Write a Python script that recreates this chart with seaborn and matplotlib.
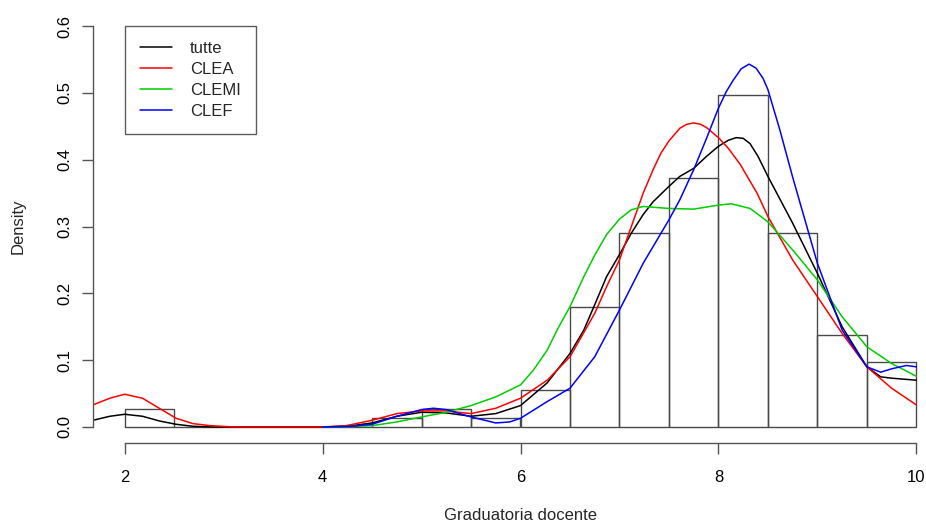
import numpy as np
import pandas as pd
import seaborn as sns
import matplotlib
matplotlib.use("Agg")
import matplotlib.pyplot as plt

######### data #######################################
# histogram of "Graduatoria docente" (counts per 0.5 bin, 145 obs)
bin_edges = [2.0, 2.5, 3.0, 3.5, 4.0, 4.5, 5.0, 5.5, 6.0, 6.5, 7.0, 7.5, 8.0, 8.5, 9.0, 9.5, 10.0]
bin_counts = [2, 0, 0, 0, 0, 1, 2, 1, 4, 13, 21, 27, 36, 21, 10, 7]

# density curves
tutte_x = [1.68, 1.85, 2.0, 2.18, 2.35, 2.52, 2.69, 2.9, 3.5, 4.0, 4.25, 4.5, 4.75, 5.0, 5.25, 5.5, 5.75,
           6.0, 6.27, 6.5, 6.64, 6.75, 6.87, 7.0, 7.12, 7.24, 7.34, 7.5, 7.61, 7.75, 7.88, 8.0, 8.1, 8.18,
           8.25, 8.32, 8.4, 8.5, 8.75, 9.0, 9.25, 9.5, 9.64, 9.75, 10.0]
tutte_y = [0.010, 0.016, 0.019, 0.016, 0.009, 0.004, 0.001, 0.0, 0.0, 0.0, 0.001, 0.006, 0.016, 0.022,
           0.021, 0.016, 0.020, 0.032, 0.066, 0.11, 0.145, 0.183, 0.225, 0.258, 0.29, 0.318, 0.337, 0.36,
           0.375, 0.387, 0.405, 0.42, 0.429, 0.433, 0.432, 0.424, 0.405, 0.375, 0.305, 0.23, 0.15, 0.09,
           0.075, 0.073, 0.07]

clea_x = [1.68, 1.85, 2.0, 2.18, 2.35, 2.52, 2.69, 2.86, 3.1, 3.5, 4.0, 4.24, 4.5, 4.75, 5.0, 5.25, 5.5,
          5.75, 6.0, 6.27, 6.5, 6.75, 6.87, 7.0, 7.12, 7.24, 7.34, 7.42, 7.5, 7.61, 7.68, 7.75, 7.82, 7.88,
          8.0, 8.1, 8.22, 8.39, 8.5, 8.75, 9.0, 9.25, 9.5, 9.75, 10.0]
clea_y = [0.033, 0.043, 0.049, 0.043, 0.028, 0.013, 0.005, 0.002, 0.0, 0.0, 0.0, 0.002, 0.010, 0.020,
          0.024, 0.024, 0.020, 0.028, 0.043, 0.07, 0.105, 0.17, 0.21, 0.25, 0.30, 0.35, 0.385, 0.41,
          0.428, 0.447, 0.453, 0.455, 0.453, 0.448, 0.433, 0.417, 0.393, 0.35, 0.315, 0.25, 0.195, 0.14,
          0.09, 0.058, 0.033]

clemi_x = [4.0, 4.25, 4.5, 4.75, 5.0, 5.25, 5.5, 5.75, 6.0, 6.13, 6.27, 6.38, 6.5, 6.64, 6.75, 6.87,
           7.0, 7.12, 7.24, 7.5, 7.75, 8.0, 8.13, 8.32, 8.5, 8.75, 9.0, 9.25, 9.5, 9.75, 10.0]
clemi_y = [0.0, 0.0005, 0.002, 0.0075, 0.015, 0.022, 0.032, 0.045, 0.063, 0.085, 0.115, 0.148, 0.18,
           0.225, 0.257, 0.288, 0.311, 0.325, 0.33, 0.327, 0.326, 0.332, 0.334, 0.327, 0.307, 0.265,
           0.22, 0.165, 0.12, 0.095, 0.076]

clef_x = [4.0, 4.3, 4.5, 4.75, 5.0, 5.12, 5.25, 5.5, 5.75, 5.89, 6.0, 6.27, 6.5, 6.75, 7.0, 7.24, 7.5,
          7.61, 7.75, 7.88, 8.0, 8.08, 8.15, 8.23, 8.31, 8.38, 8.45, 8.5, 8.62, 8.75, 9.0, 9.25, 9.5,
          9.64, 9.75, 9.9, 10.0]
clef_y = [0.0, 0.001, 0.004, 0.016, 0.026, 0.028, 0.026, 0.015, 0.006, 0.0075, 0.013, 0.038, 0.058,
          0.105, 0.175, 0.245, 0.31, 0.34, 0.385, 0.432, 0.477, 0.502, 0.519, 0.536, 0.543, 0.537,
          0.522, 0.505, 0.445, 0.374, 0.245, 0.145, 0.09, 0.082, 0.087, 0.092, 0.09]

curve_names = ["tutte", "CLEA", "CLEMI", "CLEF"]
curve_colors = {"tutte": "black", "CLEA": "#FF0000", "CLEMI": "#00CD00", "CLEF": "#0000FF"}

x_ticks = [2, 4, 6, 8, 10]
y_ticks = [0.0, 0.1, 0.2, 0.3, 0.4, 0.5, 0.6]

######### build tables ####################
bin_mids = [(a + b) / 2 for a, b in zip(bin_edges[:-1], bin_edges[1:])]
hist_df = pd.DataFrame({"voto": bin_mids, "n": bin_counts})

curves = pd.concat([
    pd.DataFrame({"x": tutte_x, "y": tutte_y, "gruppo": "tutte"}),
    pd.DataFrame({"x": clea_x, "y": clea_y, "gruppo": "CLEA"}),
    pd.DataFrame({"x": clemi_x, "y": clemi_y, "gruppo": "CLEMI"}),
    pd.DataFrame({"x": clef_x, "y": clef_y, "gruppo": "CLEF"}),
], ignore_index=True)

######### plot ####################
sns.set_style("white")
plt.rcParams["font.family"] = ["Liberation Sans", "DejaVu Sans"]
plt.rcParams["font.size"] = 12

fig = plt.figure(figsize=(9.26, 5.24), dpi=100)
# plot region like R's base graphics (extends a bit past the right edge)
ax = fig.add_axes([93 / 926, (524 - 443) / 524, 855 / 926, 433 / 524])

sns.histplot(data=hist_df, x="voto", weights="n", bins=bin_edges, stat="density",
             fill=False, color="#4a4a4a", linewidth=1.0, ax=ax)

sns.lineplot(data=curves, x="x", y="y", hue="gruppo", hue_order=curve_names,
             palette=curve_colors, estimator=None, sort=False, linewidth=1.1, ax=ax)

ax.set_xlim(1.68, 10.32)
ax.set_ylim(-0.024, 0.624)
ax.set_xticks(x_ticks)
ax.set_xticklabels([str(t) for t in x_ticks])
ax.set_yticks(y_ticks)
ax.set_yticklabels([f"{t:.1f}" for t in y_ticks], rotation=90, va="center")

for side in ["top", "right"]:
    ax.spines[side].set_visible(False)
ax.spines["left"].set_bounds(0.0, 0.6)
ax.spines["bottom"].set_bounds(2, 10)
for side in ["left", "bottom"]:
    ax.spines[side].set_color("#555555")
    ax.spines[side].set_linewidth(1.0)

ax.tick_params(axis="x", bottom=True, direction="out", length=7.7, width=1.0, color="#555555",
               labelsize=12, labelcolor="black", pad=12)
ax.tick_params(axis="y", left=True, direction="out", length=7.7, width=1.0, color="#555555",
               labelsize=12, labelcolor="black", pad=7)
ax.set_xlabel("")
ax.set_ylabel("")

fig.text(520.5 / 926, 4 / 524, "Graduatoria docente", ha="center", va="baseline", fontsize=12)
fig.text(18 / 926, 1 - 226 / 524, "Density", ha="center", va="center", rotation=90, fontsize=12)

leg = ax.legend(loc="upper left", bbox_to_anchor=(2, 0.6), bbox_transform=ax.transData,
                borderaxespad=0, fancybox=False, frameon=True, fontsize=12,
                borderpad=0.9, handlelength=1.95, handletextpad=1.05, labelspacing=0.36)
leg.get_frame().set_edgecolor("#333333")
leg.get_frame().set_linewidth(1.0)
for line in leg.get_lines():
    line.set_linewidth(1.1)

fig.savefig("out.png", dpi=100)
